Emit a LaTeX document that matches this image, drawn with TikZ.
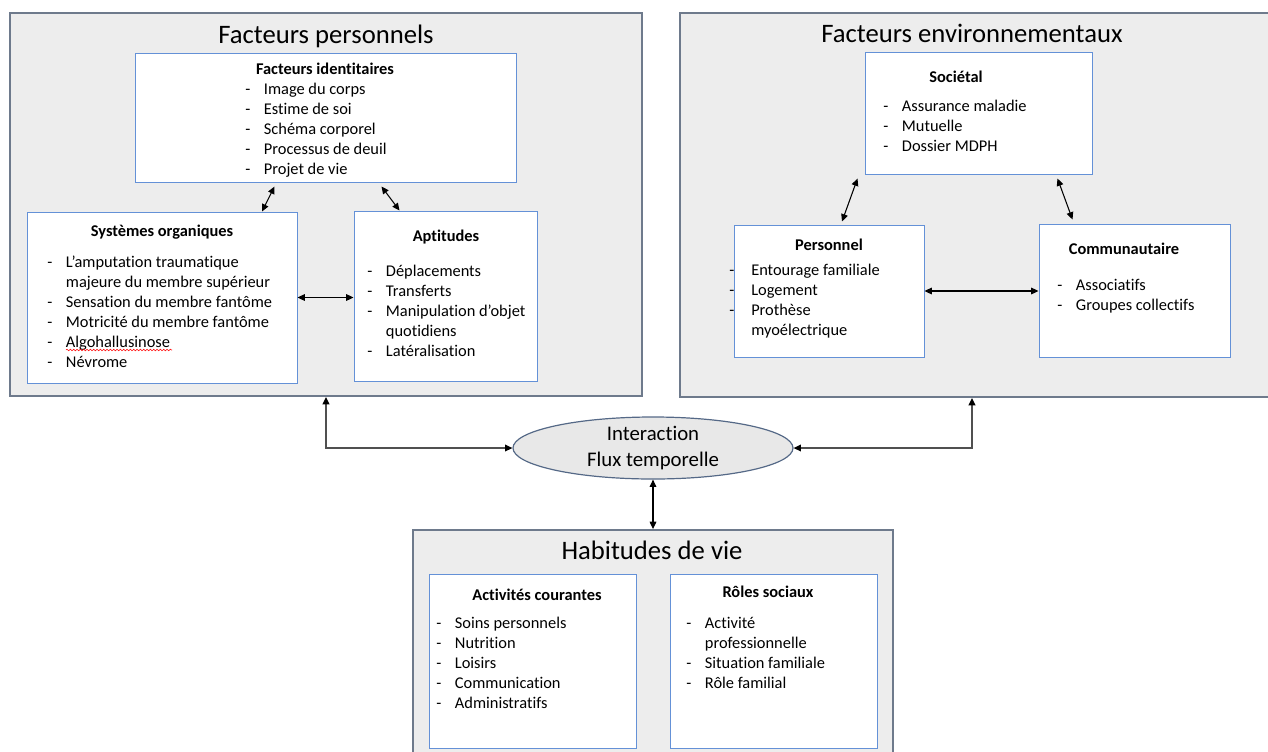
\documentclass[tikz,border=0pt]{standalone}
\usepackage{fontspec}
\setmainfont[Ligatures={NoCommon}]{Carlito}
\usetikzlibrary{arrows.meta, calc, fit, shapes.geometric, decorations.pathmorphing}

\definecolor{panelfill}{RGB}{237,237,237}
\definecolor{paneledge}{RGB}{110,122,140}
\definecolor{boxedge}{RGB}{100,145,215}
\definecolor{ovalfill}{RGB}{232,232,232}
\definecolor{ovaledge}{RGB}{85,105,135}
\definecolor{linkgray}{RGB}{80,80,80}

\newcommand{\dl}[2][14pt]{\strut\makebox[#1][l]{-}#2}
\newcommand{\cl}[2][14pt]{\strut\hspace*{#1}#2}

\begin{document}
\begin{tikzpicture}[x=0.75pt, y=-0.75pt,
	panel/.style={draw=paneledge, fill=panelfill, line width=1.4pt, inner sep=0pt},
	inbox/.style={draw=boxedge, fill=white, line width=0.75pt, inner sep=0pt},
	bigtitle/.style={anchor=base, inner sep=0pt, font=\fontsize{20}{24}\selectfont},
	boxtitle/.style={anchor=base, inner sep=0pt, font=\fontsize{12.3}{15}\selectfont\bfseries},
	items/.style={anchor=north west, align=left, inner sep=0pt, font=\fontsize{12.3}{15}\selectfont},
	biarrow/.style={{Triangle[length=5.5pt,width=5pt,color=black]}-{Triangle[length=5.5pt,width=5pt,color=black]}, line width=0.8pt},
	elbow/.style={biarrow, draw=linkgray, line width=1.1pt}]
	\clip (0,0) rectangle (1268,751);

	% the three panels
	\node[panel, fit={(10,13) (642,396)}] (perso) {};
	\node[panel, fit={(680,13) (1270,397)}] (envi) {};
	\node[panel, fit={(413,530) (893,770)}] (habit) {};
	\node[bigtitle] (persotitle) at (326,43) {Facteurs personnels};
	\node[bigtitle] (envititle) at (972,42) {Facteurs environnementaux};
	\node[bigtitle] (habittitle) at (652,559) {Habitudes de vie};

	% facteurs personnels
	\node[inbox, fit={(135,53) (516,182)}] (ident) {};
	\node[inbox, fit={(27,212) (297,383)}] (sys) {};
	\node[inbox, fit={(354,211) (537,381)}] (apt) {};
	\node[boxtitle] (identtitle) at (325,74) {Facteurs identitaires};
	\node[boxtitle] (systitle) at (162,236) {Systèmes organiques};
	\node[boxtitle] (apttitle) at (446,241) {Aptitudes};
	\node[items] (identlist) at (245,80) {\dl{Image du corps}\\\dl{Estime de soi}\\\dl{Schéma corporel}\\\dl{Processus de deuil}\\\dl{Projet de vie}};
	\node[items] (syslist) at (47,253) {\dl{L’amputation traumatique}\\\cl{majeure du membre supérieur}\\\dl{Sensation du membre fantôme}\\\dl{Motricité du membre fantôme}\\\dl{Algohallusinose}\\\dl{Névrome}};
	\node[items] (aptlist) at (367,262) {\dl{Déplacements}\\\dl{Transferts}\\\dl{Manipulation d’objet}\\\cl{quotidiens}\\\dl{Latéralisation}};
	\draw[red, decorate, decoration={snake, segment length=2.5pt, amplitude=0.6pt}] (66,350) -- (172,350);

	% facteurs environnementaux
	\node[inbox, fit={(865,52) (1092,174)}] (soc) {};
	\node[inbox, fit={(734,225) (924,357)}] (pers) {};
	\node[inbox, fit={(1039,224) (1230,357)}] (comm) {};
	\node[boxtitle] (soctitle) at (956,82) {Sociétal};
	\node[boxtitle] (perstitle) at (829,250) {Personnel};
	\node[boxtitle] (commtitle) at (1124,254) {Communautaire};
	\node[items] (soclist) at (883,97) {\dl{Assurance maladie}\\\dl{Mutuelle}\\\dl{Dossier MDPH}};
	\node[items] (perslist) at (729,261) {\dl[16.5pt]{Entourage familiale}\\\dl[16.5pt]{Logement}\\\dl[16.5pt]{Prothèse}\\\cl[16.5pt]{myoélectrique}};
	\node[items] (commlist) at (1057,276) {\dl{Associatifs}\\\dl{Groupes collectifs}};

	% habitudes de vie
	\node[inbox, fit={(429,574) (636,748)}] (activ) {};
	\node[inbox, fit={(670,574) (877,748)}] (roles) {};
	\node[boxtitle] (activtitle) at (537,600) {Activités courantes};
	\node[boxtitle] (rolestitle) at (768,597) {Rôles sociaux};
	\node[items] (activlist) at (436,614) {\dl{Soins personnels}\\\dl{Nutrition}\\\dl{Loisirs}\\\dl{Communication}\\\dl{Administratifs}};
	\node[items] (roleslist) at (686,614) {\dl{Activité}\\\cl{professionnelle}\\\dl{Situation familiale}\\\dl{Rôle familial}};

	% interaction
	\node[ellipse, draw=ovaledge, fill=ovalfill, line width=0.9pt, minimum width=210pt, minimum height=46.5pt, inner sep=0pt, align=center, font=\fontsize{15.6}{19.5}\selectfont] (inter) at (653,448) {Interaction\\Flux temporelle};

	% links
	\draw[biarrow] ($(ident.south)+(-51,4)$) -- ($(sys.north)+(100,0)$);
	\draw[biarrow] ($(ident.south)+(56,4)$) -- ($(apt.north)+(-46,0)$);
	\draw[biarrow] (sys.east) -- (sys.east -| apt.west);
	\draw[biarrow] ($(soc.south)+(-121,4)$) -- ($(pers.north)+(13,-3)$);
	\draw[biarrow] ($(soc.south)+(79,4)$) -- ($(comm.north)+(-62,-4)$);
	\draw[biarrow] (pers.east) -- (pers.east -| comm.west);
	\draw[elbow] (perso.south) |- (inter.west);
	\draw[elbow] ($(envi.south)+(-3,0)$) |- (inter.east);
	\draw[biarrow] (inter.south) -- (habit.north);
\end{tikzpicture}
\end{document}
